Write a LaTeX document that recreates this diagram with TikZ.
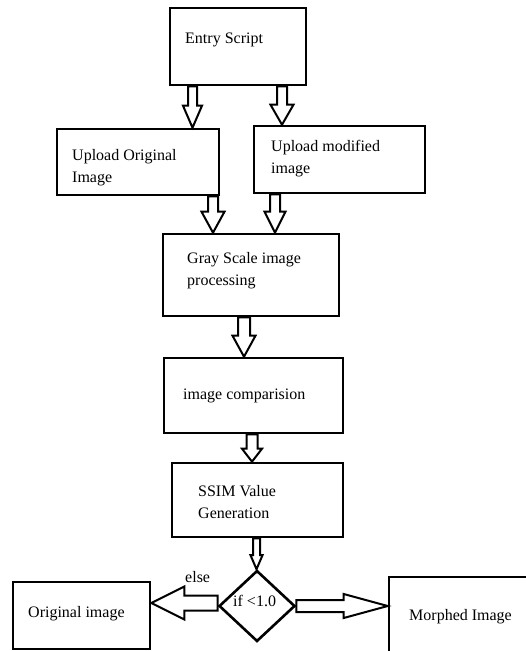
\documentclass[tikz,border=0pt]{standalone}
\usepackage{fontspec}
\setmainfont{Liberation Serif}
\usetikzlibrary{calc,shapes.geometric}
\tikzset{
  box/.style={draw, line width=2.6pt, inner sep=0pt, fill=white},
  txt/.style={inner sep=0pt, anchor=base west, font=\fontsize{16}{22}\selectfont, align=left},
  arrowline/.style={draw, line width=2pt, fill=white, line join=miter},
}
% block arrow: start, end, half shaft width, half head width, head length
\newcommand{\barrow}[5]{%
  \coordinate (ba-h) at ($(#2)!#5!(#1)$);
  \draw[arrowline] ($(#1)!#3!90:(#2)$) -- ($(ba-h)!#3!-90:(#1)$) -- ($(ba-h)!#4!-90:(#1)$)
    -- (#2) -- ($(ba-h)!#4!90:(#1)$) -- ($(ba-h)!#3!90:(#1)$) -- ($(#1)!#3!-90:(#2)$) -- cycle;
}
\begin{document}
\begin{tikzpicture}[x=1pt,y=-1pt]
\useasboundingbox (0,0) rectangle (526,651);
% boxes
\node[box, minimum width=136pt, minimum height=77pt] (entry) at (238,46.5) {};
\node[box, minimum width=162pt, minimum height=66pt] (uporig) at (138,162) {};
\node[box, minimum width=171pt, minimum height=67pt] (upmod) at (339.5,159.5) {};
\node[box, minimum width=176pt, minimum height=82pt] (gray) at (251,275) {};
\node[box, minimum width=179pt, minimum height=75pt] (cmp) at (253.5,395.5) {};
\node[box, minimum width=171pt, minimum height=74pt] (ssim) at (257.5,500) {};
\node[box, shape=diamond, minimum width=76pt, minimum height=71pt] (dia) at (257,606) {};
\node[box, minimum width=137pt, minimum height=67pt] (orig) at (81.5,615.5) {};
\node[box, minimum width=143pt, minimum height=79pt] (morph) at (460.5,616.5) {};
% texts (multi-line nodes: base = last line)
\node[txt] (entry-t) at (185,43) {Entry Script};
\node[txt] (uporig-t) at (72,182) {Upload Original\\Image};
\node[txt] (upmod-t) at (271,173) {Upload modified\\image};
\node[txt] (gray-t) at (187,285) {Gray Scale image\\processing};
\node[txt] (cmp-t) at (183,399) {image comparision};
\node[txt] (ssim-t) at (198,518) {SSIM Value\\Generation};
\node[txt] (dia-t) at (233,606) {if <1.0};
\node[txt] (orig-t) at (28,617) {Original image};
\node[txt] (morph-t) at (409,620) {Morphed Image};
% connectors
\coordinate (a1s) at ([xshift=-45.5pt]entry.south);
\coordinate (a1e) at ([xshift=54.5pt]uporig.north);
\barrow{a1s}{a1e}{4.5pt}{9.5pt}{22pt}
\coordinate (a2s) at ([xshift=44pt]entry.south);
\coordinate (a2e) at ([xshift=-57.5pt]upmod.north);
\barrow{a2s}{a2e}{5pt}{11.5pt}{20pt}
\coordinate (a3s) at ([xshift=75pt]uporig.south);
\coordinate (a3e) at ([xshift=-38pt]gray.north);
\barrow{a3s}{a3e}{5pt}{11.5pt}{21pt}
\coordinate (a4s) at ([xshift=-64.5pt]upmod.south);
\coordinate (a4e) at ([xshift=24pt]gray.north);
\barrow{a4s}{a4e}{5pt}{10.5pt}{21pt}
\coordinate (a5s) at ([xshift=-7pt]gray.south);
\coordinate (a5e) at ([xshift=-9.5pt]cmp.north);
\barrow{a5s}{a5e}{6pt}{11.5pt}{21pt}
\coordinate (a6s) at ([xshift=-1.5pt]cmp.south);
\coordinate (a6e) at ([xshift=-5.5pt]ssim.north);
\barrow{a6s}{a6e}{5.5pt}{10pt}{13pt}
\coordinate (a7s) at ([xshift=-1pt]ssim.south);
\coordinate (a7e) at ([xshift=-0.5pt]dia.north);
\barrow{a7s}{a7e}{3.5pt}{6pt}{14pt}
\coordinate (a8s) at ([yshift=3pt]dia.west);
\coordinate (a8e) at ([yshift=12.5pt]orig.east);
\barrow{a8s}{a8e}{7.5pt}{16.5pt}{33pt}
\coordinate (a9s) at ([yshift=0pt]dia.east);
\coordinate (a9e) at ([yshift=10.5pt]morph.west);
\barrow{a9s}{a9e}{6pt}{12pt}{44pt}
\node[txt] (else-t) at (185,582) {else};
\end{tikzpicture}
\end{document}
